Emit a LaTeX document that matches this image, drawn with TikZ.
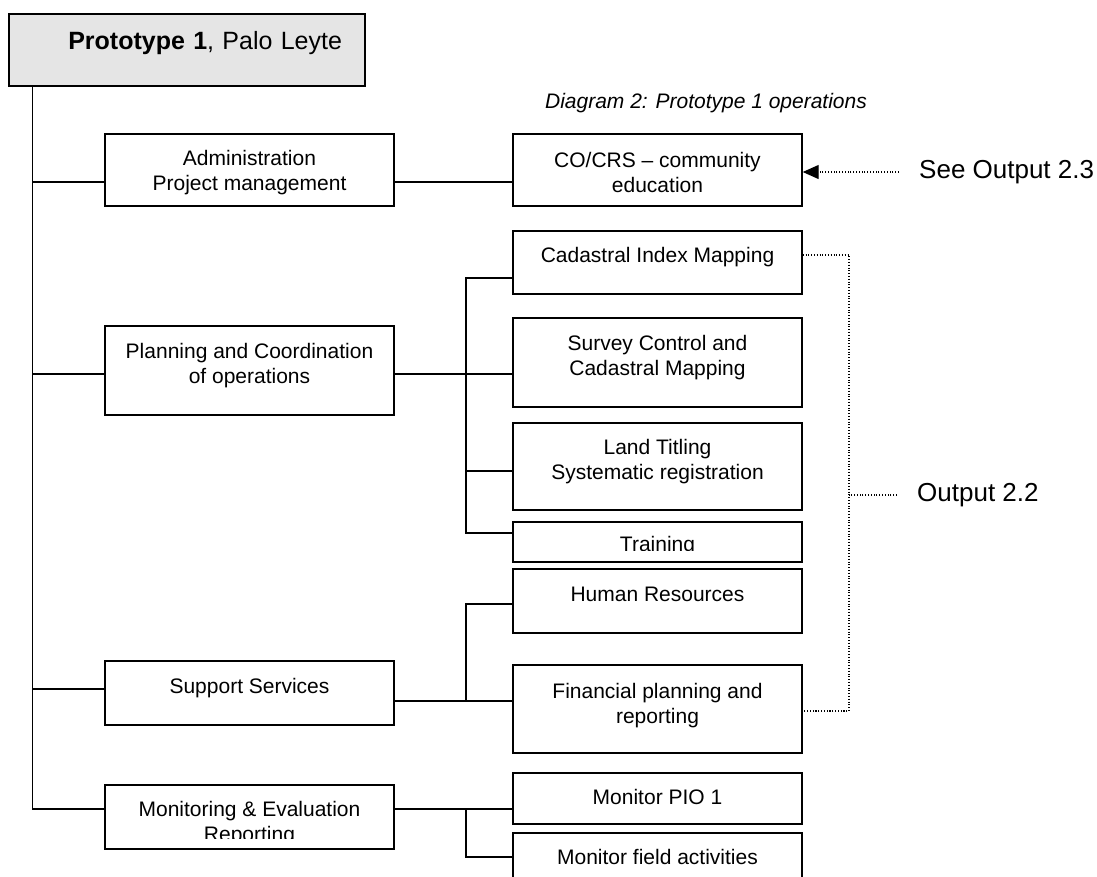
\documentclass[tikz,border=0pt]{standalone}
\usepackage{fontspec}
\setmainfont{Liberation Sans}
\usetikzlibrary{arrows.meta, positioning, calc}

\newcommand{\boxfont}{\fontsize{21}{25}\selectfont}
\newcommand{\notefont}{\fontsize{26}{30}\selectfont}

\begin{document}
\begin{tikzpicture}[x=1pt, y=-1pt, >=Stealth,
            box/.style={draw, rectangle, line width=1.4pt, minimum width=289pt, align=center, font=\boxfont, inner sep=0pt, text depth=14pt},
            titlebox/.style={draw, rectangle, line width=1.4pt, fill=black!10, minimum height=72pt, text width=310pt, inner xsep=23pt, align=right, font=\fontsize{25}{30}\selectfont, text depth=19pt},
            link/.style={line width=1.4pt},
            dotlink/.style={line width=1.2pt, dash pattern=on 1.1pt off 1.7pt},
            note/.style={font=\notefont, anchor=west, inner xsep=20pt}]

            \clip (0,0) rectangle (1097,876);

            % left column
            \node[titlebox] (title) at (187,50) {\textbf{Prototype 1}, Palo Leyte};
            \node[box, minimum height=72pt, text depth=0pt] (admin) at (249.5,170) {Administration\\Project management};
            \node[box, minimum height=89pt] (plan) at (249.5,370.5) {Planning and Coordination\\of operations};
            \node[box, minimum height=64pt] (support) at (249.5,693) {Support Services};
            \node[box, minimum height=64pt] (monitor) at (249.5,817) {};

            % right column
            \node[box, minimum height=72pt, text depth=4pt, text height=49pt] (co) at (657.5,170) {CO/CRS – community\\education};
            \node[box, minimum height=63pt, text depth=15pt] (cadastral) at (657.5,262.5) {Cadastral Index Mapping};
            \node[box, minimum height=89pt] (survey) at (657.5,362.5) {Survey Control and\\Cadastral Mapping};
            \node[box, minimum height=87pt] (titling) at (657.5,466.5) {Land Titling\\Systematic registration};
            \node[box, minimum height=40pt] (training) at (657.5,542) {};
            \node[box, minimum height=64pt] (hr) at (657.5,601) {Human Resources};
            \node[box, minimum height=88pt, text depth=11pt] (finance) at (657.5,709) {Financial planning and\\reporting};
            \node[box, minimum height=51pt, text depth=4pt] (pio) at (657.5,798.5) {Monitor PIO 1};
            \node[box, minimum height=51pt, text depth=4pt] (field) at (657.5,858.5) {Monitor field activities};

            % texts cut by their boxes
            \begin{scope}
                \clip (training.north west) rectangle ([yshift=12pt]training.south east);
                \node[font=\boxfont, anchor=base] (training-txt) at (657.5,551.5) {Training};
            \end{scope}
            \begin{scope}
                \clip (monitor.north west) rectangle ([yshift=11pt]monitor.south east);
                \node[font=\boxfont, align=center, anchor=north, inner sep=0pt] (monitor-txt) at (249.5,801) {Monitoring \& Evaluation\\Reporting};
            \end{scope}

            \node[font=\fontsize{21}{25}\selectfont\itshape] (caption) at (706,103) {Diagram 2: Prototype 1 operations};
            \node[note] (see) at (899,172) {See Output 2.3};
            \node[note] (out) at (897,495) {Output 2.2};

            \coordinate (trunk) at ([xshift=24pt]title.south west);
            \coordinate (pbus) at (466,0);
            \coordinate (brace) at (849,0);

            % tree
            \draw[link] (trunk) |- ([yshift=8pt]monitor.west);
            \foreach \n/\s in {admin/-12, plan/-3.5, support/4}
                \draw[link] ([yshift=\s pt]\n.west) -- ([yshift=\s pt]\n.west -| trunk);
            \draw[link] ([yshift=-12pt]admin.east) -- ([yshift=-12pt]co.west);
            \draw[link] ([yshift=-3.5pt]plan.east) -- ([yshift=-11.5pt]survey.west);
            \draw[link] ([yshift=-15.5pt]cadastral.west) -| ([yshift=9pt]training.west -| pbus) -- ([yshift=9pt]training.west);
            \draw[link] ([yshift=-4.5pt]titling.west) -- ([yshift=-4.5pt]titling.west -| pbus);
            \draw[link] ([yshift=-3pt]hr.west) -| ([yshift=8pt]finance.west -| pbus);
            \draw[link] ([yshift=-8pt]support.east) -- ([yshift=8pt]finance.west);
            \draw[link] ([yshift=8pt]monitor.east) -- ([yshift=-10.5pt]pio.west);
            \draw[link] ([yshift=-10.5pt]pio.west -| pbus) |- ([yshift=1.5pt]field.west);

            % outputs
            \draw[dotlink] ([yshift=7.5pt]cadastral.east) -| ([yshift=-2pt]finance.east -| brace) -- ([yshift=-2pt]finance.east);
            \draw[dotlink] (out.west) -- (out.west -| brace);
            \draw[dotlink, -{Triangle[length=16pt, width=14pt, fill=black]}] (see.west) -- (see.west -| co.east);
        \end{tikzpicture}
\end{document}
